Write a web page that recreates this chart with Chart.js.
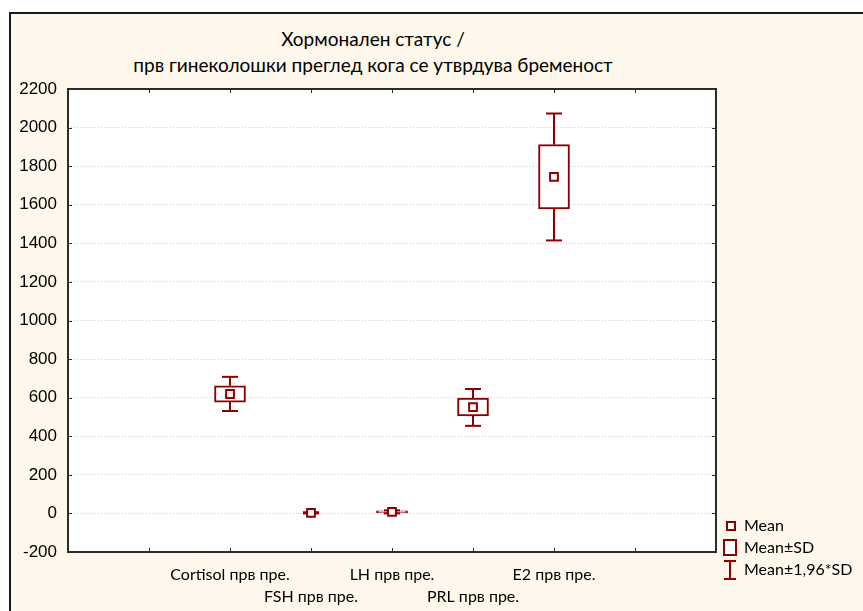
<!DOCTYPE html>
<html>
<head>
<meta charset="utf-8">
<script src="https://cdn.jsdelivr.net/npm/chart.js@4.4.1/dist/chart.umd.min.js"></script>
<style>
    body { margin: 0; background: #ffffff; width: 863px; height: 611px; overflow: hidden; position: relative; }
    #frame { position: absolute; left: 9px; top: 12px; width: 900px; height: 700px;
             border-left: 2px solid #1a1a1a; border-top: 2px solid #1a1a1a; background: #fdf8eb; }
    #chart { position: absolute; left: 0; top: 0; }
    .title { position: absolute; left: 0; width: 746px; text-align: center;
             font-family: Lato, sans-serif; font-size: 19px; color: #000; white-space: nowrap; }
    .leg { position: absolute; font-family: Lato, sans-serif; font-size: 16px; color: #000; white-space: nowrap; }
    .leg svg { position: absolute; }
</style>
</head>
<body>
<div id="frame"></div>
<div class="title" style="top: 27px;">Хормонален статус /</div>
<div class="title" style="top: 53px;">прв гинеколошки преглед кога се утврдува бременост</div>
<canvas id="chart" width="863" height="611"></canvas>

<!-- legend, drawn by hand like the statistica one -->
<div class="leg" style="left: 722px; top: 515px;">
    <svg width="16" height="16" style="left: 2px; top: 4px;"><rect x="3" y="3" width="8" height="8" fill="#fff" stroke="#8b0000" stroke-width="2"/></svg>
    <span style="position:absolute; left: 22px; top: 0;">Mean</span>
</div>
<div class="leg" style="left: 722px; top: 537px;">
    <svg width="16" height="20" style="left: 0; top: 1px;"><rect x="2" y="2" width="12" height="15" fill="#fff" stroke="#8b0000" stroke-width="2"/></svg>
    <span style="position:absolute; left: 22px; top: 0;">Mean±SD</span>
</div>
<div class="leg" style="left: 722px; top: 559px;">
    <svg width="16" height="20" style="left: 0; top: 1px;"><path d="M2 1 H14 M8 1 V19 M2 19 H14" stroke="#8b0000" stroke-width="2" fill="none"/></svg>
    <span style="position:absolute; left: 22px; top: 0;">Mean±1,96*SD</span>
</div>

<script>
// hormone status at first gynaecological exam - mean, ±SD box and ±1.96*SD whiskers

// colors
const COLOR_RED = '#8b0000';
const COLOR_GRID = '#cfcfcf';
const COLOR_FRAME = '#2b2b2b';

// categories sit on x = 2..6 of an 8 slot axis
const categories = ['Cortisol прв пре.', 'FSH прв пре.', 'LH прв пре.', 'PRL прв пре.', 'E2 прв пре.'];
const FIRST_SLOT = 2;

// values
const means = [619, 3, 8, 551, 1745];
const boxLow = [577, null, 2, 506, 1579];     // mean - SD (FSH box is not visible)
const boxHigh = [662, null, 14, 598, 1912];   // mean + SD
const whiskerLow = [531, 0, 0, 454, 1415];    // mean - 1.96*SD
const whiskerHigh = [708, 6, 16, 645, 2073];  // mean + 1.96*SD

// y axis ticks
const yTicks = [-200, 0, 200, 400, 600, 800, 1000, 1200, 1400, 1600, 1800, 2000, 2200];


// build the point lists for each dataset
function xOf(i) {
    return i + FIRST_SLOT;
}

const meanPoints = [];
const boxBars = [];
const whiskerLines = [];
const capPoints = [];
for (let i = 0; i < categories.length; i++) {
    meanPoints.push({ x: xOf(i), y: means[i] });
    if (boxLow[i] !== null) {
        boxBars.push({ x: xOf(i), y: [boxLow[i], boxHigh[i]] });
    }
    // whisker below and above the box, with a gap between
    const lo = boxLow[i] !== null ? boxLow[i] : means[i];
    const hi = boxHigh[i] !== null ? boxHigh[i] : means[i];
    whiskerLines.push({ x: xOf(i), y: whiskerLow[i] });
    whiskerLines.push({ x: xOf(i), y: lo });
    whiskerLines.push({ x: xOf(i), y: null });
    whiskerLines.push({ x: xOf(i), y: hi });
    whiskerLines.push({ x: xOf(i), y: whiskerHigh[i] });
    whiskerLines.push({ x: xOf(i), y: null });
    capPoints.push({ x: xOf(i), y: whiskerLow[i] });
    capPoints.push({ x: xOf(i), y: whiskerHigh[i] });
}


// white plot area, frame and the little inner tick marks
const framePlugin = {
    id: 'frame',
    beforeDraw(chart) {
        const a = chart.chartArea;
        const ctx = chart.ctx;
        ctx.save();
        ctx.fillStyle = '#ffffff';
        ctx.fillRect(a.left, a.top, a.right - a.left, a.bottom - a.top);
        ctx.restore();
    },
    afterDatasetsDraw(chart) {
        const a = chart.chartArea;
        const ctx = chart.ctx;
        const xs = chart.scales.x;
        const ys = chart.scales.y;
        ctx.save();
        ctx.strokeStyle = COLOR_FRAME;
        ctx.lineWidth = 2;
        ctx.strokeRect(a.left, a.top, a.right - a.left, a.bottom - a.top);
        ctx.lineWidth = 1;
        ctx.beginPath();
        for (let v = xs.min; v <= xs.max; v++) {
            const px = Math.round(xs.getPixelForValue(v)) + 0.5;
            ctx.moveTo(px, a.top);
            ctx.lineTo(px, a.top + 4);
            ctx.moveTo(px, a.bottom);
            ctx.lineTo(px, a.bottom - 4);
        }
        for (let i = 0; i < yTicks.length; i++) {
            const py = Math.round(ys.getPixelForValue(yTicks[i])) + 0.5;
            ctx.moveTo(a.left, py);
            ctx.lineTo(a.left + 4, py);
            ctx.moveTo(a.right, py);
            ctx.lineTo(a.right - 4, py);
        }
        ctx.stroke();
        ctx.restore();
    }
};


const ctx = document.getElementById('chart').getContext('2d');
const myChart = new Chart(ctx, {
    type: 'scatter',
    data: {
        datasets: [
            {
                label: 'Mean',
                data: meanPoints,
                pointStyle: 'rect',
                pointRadius: 5.5,
                pointBackgroundColor: '#ffffff',
                pointBorderColor: COLOR_RED,
                pointBorderWidth: 2,
                order: 0
            },
            {
                label: 'caps',
                data: capPoints,
                pointStyle: 'line',
                pointRadius: 8,
                pointBorderColor: COLOR_RED,
                pointBorderWidth: 2,
                order: 1
            },
            {
                type: 'line',
                label: 'Mean±1,96*SD',
                data: whiskerLines,
                borderColor: COLOR_RED,
                borderWidth: 2,
                pointRadius: 0,
                spanGaps: false,
                order: 2
            },
            {
                type: 'bar',
                label: 'Mean±SD',
                data: boxBars,
                backgroundColor: '#ffffff',
                borderColor: COLOR_RED,
                borderWidth: 2,
                borderSkipped: false,
                barThickness: 31,
                order: 3
            }
        ]
    },
    options: {
        responsive: false,
        animation: false,
        devicePixelRatio: 1,
        layout: { padding: { left: 0, top: 89, right: 147, bottom: 0 } },
        plugins: {
            legend: { display: false },
            tooltip: { enabled: false }
        },
        scales: {
            x: {
                type: 'linear',
                min: 0,
                max: 8,
                offset: false,
                grid: { display: false, drawTicks: false, offset: false },
                border: { display: false },
                afterFit: function(scale) { scale.height = 59; },
                ticks: {
                    stepSize: 1,
                    autoSkip: false,
                    maxRotation: 0,
                    minRotation: 0,
                    padding: 12,
                    color: '#000',
                    font: { family: 'Lato', size: 16, lineHeight: 1.35 },
                    callback: function(value) {
                        const i = value - FIRST_SLOT;
                        if (i < 0 || i >= categories.length) return '';
                        // every second label goes on the lower row
                        if (i % 2 === 1) return ['', categories[i]];
                        return categories[i];
                    }
                }
            },
            y: {
                type: 'linear',
                min: -200,
                max: 2200,
                grid: { color: COLOR_GRID, drawTicks: false },
                border: { display: false, dash: [1, 2] },
                afterFit: function(scale) { scale.width = 68; },
                ticks: {
                    stepSize: 200,
                    padding: 11,
                    color: '#000',
                    font: { family: 'Liberation Sans', size: 17 },
                    callback: function(value) { return String(value); }
                }
            }
        }
    },
    plugins: [framePlugin]
});
</script>
</body>
</html>
